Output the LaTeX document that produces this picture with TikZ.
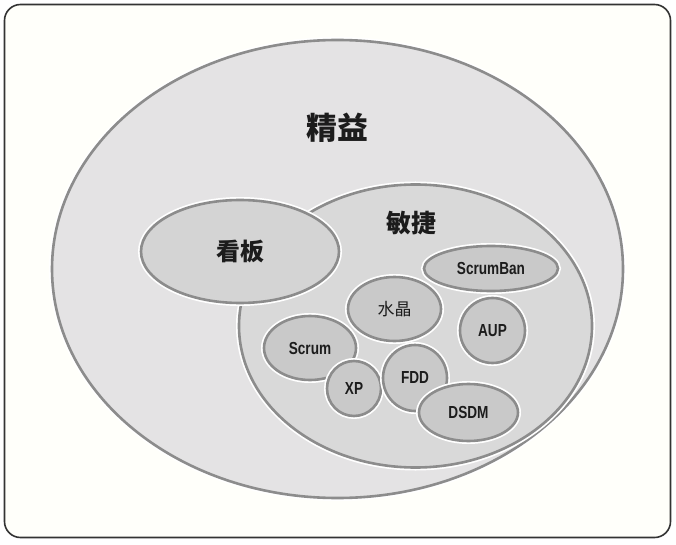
\documentclass[tikz,border=0pt]{standalone}
\usepackage{fontspec}
\setmainfont{Liberation Sans}[FakeStretch=0.78]
\newfontfamily\cjk{Noto Sans CJK SC}
\usepackage{xcolor}
\usetikzlibrary{shapes.geometric}
\definecolor{rimgray}{HTML}{8C8C8C}
\definecolor{leanfill}{HTML}{E4E3E4}
\definecolor{agilefill}{HTML}{D9D9D9}
\definecolor{kanbanfill}{HTML}{D4D4D4}
\definecolor{methodfill}{HTML}{C9C9C9}
\definecolor{inkgray}{HTML}{1C1C1C}
\begin{document}
\begin{tikzpicture}[x=1bp, y=-1bp,
  blob/.style={ellipse, draw=rimgray, line width=2.6bp, inner sep=0pt, text=inkgray,
    preaction={draw=white, line width=6bp}},
  set/.style={blob, font=\cjk\bfseries\fontsize{24}{24}\selectfont},
  method/.style={blob, fill=methodfill, font=\bfseries\fontsize{17.5}{17.5}\selectfont}]
\useasboundingbox (0,0) rectangle (676,545);
\draw[draw=black!80, line width=1.6bp, fill=white!98!yellow, rounded corners=16bp] (4.5,4.5) rectangle (670.5,537.5);
\node[set, fill=leanfill, minimum width=571bp, minimum height=458bp] (lean) at (337.5,269) {};
\node[font=\cjk\bfseries\fontsize{31}{31}\selectfont, text=inkgray] (leanlbl) at (337,128) {精益};
\node[set, fill=agilefill, minimum width=353bp, minimum height=283bp] (agile) at (415.5,326) {};
\node[font=\cjk\bfseries\fontsize{25}{25}\selectfont, text=inkgray] (agilelbl) at (411,223) {敏捷};
\node[set, fill=kanbanfill, minimum width=198bp, minimum height=103bp] (kanban) at (240,251.5) {看板};
\node[method, minimum width=134bp, minimum height=45bp] (scrumban) at (491,268.5) {ScrumBan};
\node[method, minimum width=93bp, minimum height=64bp, font=\cjk\fontsize{17}{17}\selectfont] (crystal) at (394.5,309) {水晶};
\node[method, minimum width=65bp, minimum height=65bp] (aup) at (492.5,330.5) {AUP};
\node[method, minimum width=92bp, minimum height=64bp] (scrum) at (310,348) {Scrum};
\node[method, minimum width=54bp, minimum height=55bp] (xp) at (354,388.5) {XP};
\node[method, minimum width=64bp, minimum height=66bp] (fdd) at (415,378) {FDD};
\node[method, minimum width=99bp, minimum height=57bp] (dsdm) at (468.5,412.5) {DSDM};
\end{tikzpicture}
\end{document}
